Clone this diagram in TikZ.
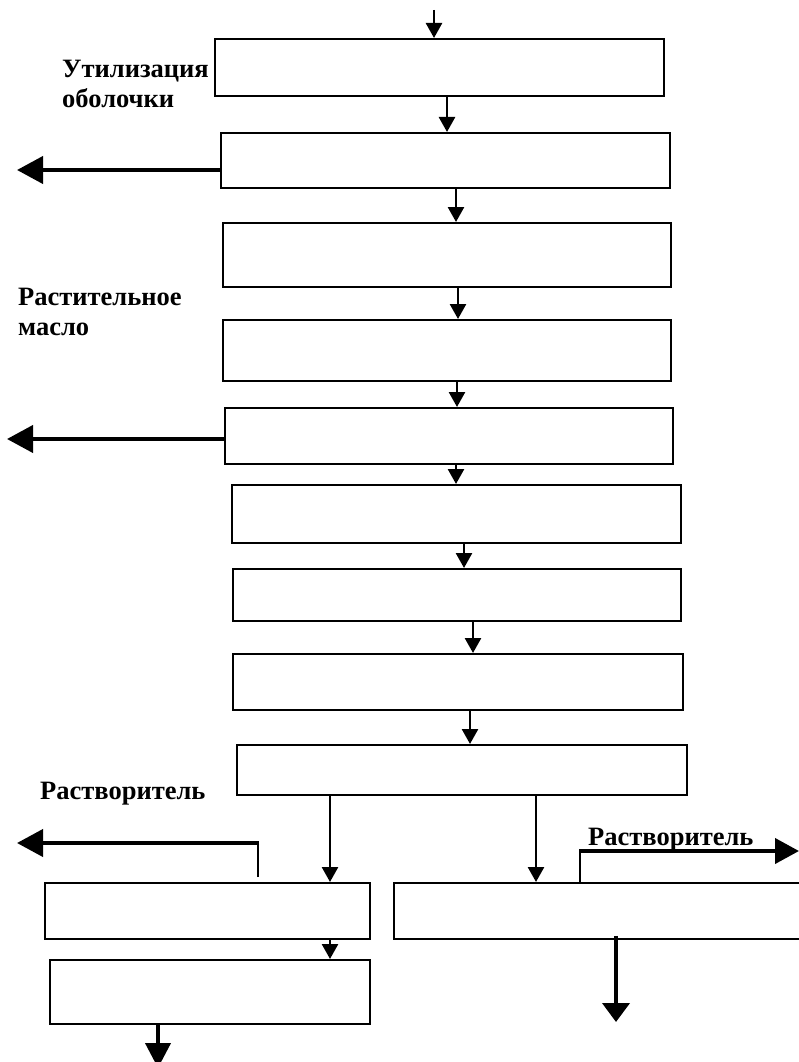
\documentclass[tikz,border=0pt]{standalone}
\usepackage{fontspec}
\setmainfont{Liberation Serif}
\usetikzlibrary{arrows.meta}
\begin{document}
\begin{tikzpicture}[x=1pt,y=-1pt,
  box/.style={draw,line width=1.8pt,inner sep=0pt,anchor=north west},
  arr/.style={line width=2.6pt,-{Triangle[length=15pt,width=16pt]}},
  bigarr/.style={line width=4pt,-{Triangle[length=26pt,width=27pt]}},
  thin/.style={line width=2pt},
  lbl/.style={font=\fontsize{26.5}{30}\selectfont\bfseries,inner sep=0pt,align=left,anchor=north west}]
\useasboundingbox (0,0) rectangle (799,1062);
\clip (0,0) rectangle (799,1062);
% boxes (corner at top-left)
\node[box,minimum width=449pt,minimum height=57pt] (b1) at (214,38) {};
\node[box,minimum width=449pt,minimum height=55pt] (b2) at (220,132) {};
\node[box,minimum width=448pt,minimum height=64pt] (b3) at (222,222) {};
\node[box,minimum width=448pt,minimum height=61pt] (b4) at (222,319) {};
\node[box,minimum width=448pt,minimum height=56pt] (b5) at (224,407) {};
\node[box,minimum width=449pt,minimum height=58pt] (b6) at (231,484) {};
\node[box,minimum width=448pt,minimum height=52pt] (b7) at (232,568) {};
\node[box,minimum width=450pt,minimum height=56pt] (b8) at (232,653) {};
\node[box,minimum width=450pt,minimum height=50pt] (b9) at (236,744) {};
\node[box,minimum width=325pt,minimum height=56pt] (bA) at (44,882) {};
\node[box,minimum width=320pt,minimum height=64pt] (bB) at (49,959) {};
\node[box,minimum width=412pt,minimum height=56pt] (bC) at (393,882) {};
% x positions of connectors
\coordinate (x0) at (434,0);
\coordinate (x1) at (447,0);
\coordinate (x2) at (456,0);
\coordinate (x3) at (458,0);
\coordinate (x4) at (457,0);
\coordinate (x5) at (456,0);
\coordinate (x6) at (464,0);
\coordinate (x7) at (473,0);
\coordinate (x8) at (470,0);
\coordinate (xA) at (330,0);
\coordinate (xC) at (536,0);
\coordinate (xB) at (158,0);
\coordinate (xCd) at (616,0);
\coordinate (top) at (434,10);
% main chain
\draw[arr] (top) -- (b1.north -| x0);
\draw[arr] (b1.south -| x1) -- (b2.north -| x1);
\draw[arr] (b2.south -| x2) -- (b3.north -| x2);
\draw[arr] (b3.south -| x3) -- (b4.north -| x3);
\draw[arr] (b4.south -| x4) -- (b5.north -| x4);
\draw[arr] (b5.south -| x5) -- (b6.north -| x5);
\draw[arr] (b6.south -| x6) -- (b7.north -| x6);
\draw[arr] (b7.south -| x7) -- (b8.north -| x7);
\draw[arr] (b8.south -| x8) -- (b9.north -| x8);
\draw[arr] (b9.south -| xA) -- (bA.north -| xA);
\draw[arr] (b9.south -| xC) -- (bC.north -| xC);
\draw[arr] (bA.south -| xA) -- (bB.north -| xA);
% side outputs
\coordinate (o2) at (17,170);
\draw[bigarr] (b2.west |- o2) -- (o2);
\coordinate (o5) at (7,439);
\draw[bigarr] (b5.west |- o5) -- (o5);
% left solvent
\coordinate (sA1) at (258,877);
\coordinate (sA2) at (258,843);
\coordinate (sA3) at (17,843);
\draw[thin] (sA1) -- (sA2);
\draw[bigarr] ([xshift=1pt]sA2) -- (sA3);
% right solvent
\coordinate (sC1) at (580,882);
\coordinate (sC2) at (580,851);
\coordinate (sC3) at (799,851);
\draw[thin] (sC1) -- (sC2);
\draw[line width=4pt,-{Triangle[length=24pt,width=25pt]}] ([xshift=-1pt]sC2) -- (sC3);
% bottom outputs
\coordinate (eB) at (158,1068);
\draw[line width=4pt,-{Triangle[length=25pt,width=25pt]}] (bB.south -| xB) -- (eB);
\coordinate (eC) at (616,1022);
\draw[line width=4pt,-{Triangle[length=19pt,width=27pt]}] ([yshift=4pt]bC.south -| xCd) -- (eC);
% labels
\node[lbl] (l1) at (62,60) {Утилизация\\оболочки};
\node[lbl] (l2) at (18,288) {Растительное\\масло};
\node[lbl] (l3) at (40,782) {Растворитель};
\node[lbl] (l4) at (588,828) {Растворитель};
\end{tikzpicture}
\end{document}
